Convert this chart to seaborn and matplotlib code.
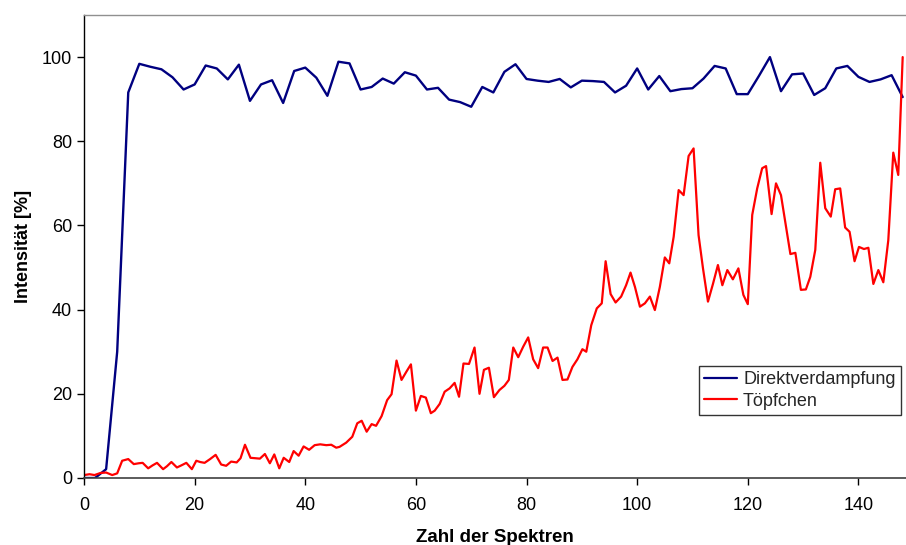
import numpy as np
import pandas as pd
import matplotlib
matplotlib.use("Agg")
import matplotlib.pyplot as plt
import seaborn as sns

# ---- data ----
blue_label = "Direktverdampfung"
red_label = "Töpfchen"

blue_x = list(range(0, 149, 2))
blue_y = [0.0, 0.0, 2.1, 30.0, 91.6, 98.4, 97.7, 97.1, 95.2, 92.3,
          93.5, 98.0, 97.3, 94.7, 98.2, 89.6, 93.5, 94.5, 89.1, 96.7,
          97.5, 95.1, 90.8, 98.9, 98.5, 92.3, 92.9, 94.9, 93.7, 96.4,
          95.6, 92.3, 92.7, 89.9, 89.3, 88.2, 92.9, 91.6, 96.5, 98.3,
          94.8, 94.4, 94.1, 94.8, 92.8, 94.4, 94.3, 94.1, 91.6, 93.2,
          97.3, 92.3, 95.5, 91.9, 92.4, 92.6, 94.9, 97.9, 97.3, 91.2,
          91.2, 95.5, 100.0, 91.9, 95.9, 96.1, 91.0, 92.6, 97.3, 97.9,
          95.3, 94.1, 94.7, 95.7, 90.5]

red_x = [0.0, 1.0, 1.9, 3.0, 4.0, 5.1, 6.0, 6.9, 8.0, 9.0,
         9.9, 10.6, 11.6, 12.4, 13.2, 14.3, 15.0, 15.8, 16.8, 17.6,
         18.5, 19.5, 20.3, 21.0, 21.8, 22.8, 23.8, 24.8, 25.7, 26.6,
         27.6, 28.3, 29.1, 30.1, 31.0, 31.8, 32.7, 33.6, 34.4, 35.3,
         36.1, 37.1, 37.9, 38.8, 39.7, 40.7, 41.7, 42.7, 43.8, 44.7,
         45.6,
         46.2, 47.4, 48.5, 49.4, 50.2, 51.1, 52.0, 52.8, 53.8, 54.8,
         55.6, 56.5, 57.4, 58.3, 59.1, 60.0, 60.9, 61.8, 62.7, 63.4,
         64.3, 65.2, 66.1, 67.0, 67.8, 68.6, 69.6, 70.6, 71.5, 72.3,
         73.2, 74.1, 75.1, 76.0, 76.8, 77.6, 78.5, 79.4, 80.3, 81.2,
         82.1, 83.0, 83.8, 84.7, 85.6, 86.5, 87.4, 88.3, 89.2, 90.1,
         90.8, 91.7, 92.7, 93.6, 94.3,
         95.2, 96.1, 97.1, 98.0, 98.8, 99.6, 100.5, 101.4, 102.3, 103.2,
         104.1, 105.0, 105.8, 106.6, 107.5, 108.4, 109.3, 110.2, 111.1, 111.9,
         112.8, 113.7, 114.6, 115.4, 116.3, 117.3, 118.3, 119.2, 120.0, 120.8,
         121.7, 122.6, 123.3, 124.3, 125.1, 126.0, 126.9, 127.7, 128.6, 129.6,
         130.5, 131.3, 132.2, 133.1, 134.0, 135.0, 135.8, 136.7, 137.6, 138.4,
         139.3, 140.1, 141.0, 141.8, 142.7, 143.6, 144.5, 145.4, 146.3, 147.2,
         148.0]
red_y = [0.7, 0.9, 0.7, 1.2, 1.3, 0.7, 1.1, 4.1, 4.5, 3.3,
         3.5, 3.6, 2.3, 3.0, 3.6, 2.1, 2.8, 3.8, 2.5, 3.0,
         3.6, 2.1, 4.1, 3.8, 3.6, 4.5, 5.5, 3.2, 2.9, 3.9,
         3.7, 4.7, 7.9, 4.8, 4.7, 4.6, 5.7, 3.5, 5.6, 2.3,
         4.8, 3.8, 6.4, 5.3, 7.5, 6.7, 7.8, 8.0, 7.8, 7.9,
         7.2,
         7.4, 8.4, 9.8, 13.0, 13.6, 11.0, 12.8, 12.4, 14.7, 18.5,
         19.9, 27.9, 23.3, 25.3, 27.0, 16.0, 19.5, 19.1, 15.4, 16.0,
         17.6, 20.5, 21.3, 22.6, 19.3, 27.2, 27.1, 31.0, 20.0, 25.7,
         26.2, 19.2, 20.9, 21.9, 23.3, 31.0, 28.7, 31.2, 33.4, 28.2,
         26.1, 31.0, 31.0, 27.8, 28.6, 23.3, 23.4, 26.4, 28.2, 30.6,
         30.0, 36.3, 40.3, 41.5, 51.5,
         43.7, 41.7, 43.1, 45.8, 48.8, 45.4, 40.7, 41.5, 43.1, 39.9,
         45.4, 52.4, 51.0, 57.3, 68.4, 67.2, 76.5, 78.3, 57.7, 49.8,
         41.9, 46.1, 50.6, 45.8, 49.4, 47.2, 49.8, 43.5, 41.3, 62.5,
         68.8, 73.6, 74.1, 62.7, 70.0, 67.2, 59.7, 53.2, 53.5, 44.7,
         44.8, 47.8, 54.2, 74.9, 64.1, 62.1, 68.6, 68.8, 59.5, 58.5,
         51.5, 54.9, 54.4, 54.7, 46.1, 49.4, 46.5, 56.5, 77.3, 72.0,
         100.0]

x_ticks = [0, 20, 40, 60, 80, 100, 120, 140]
y_ticks = [0, 20, 40, 60, 80, 100]
x_label = "Zahl der Spektren"
y_label = "Intensität [%]"

# ---- style ----
sns.set_theme(style="white")
plt.rcParams["font.family"] = ["Liberation Sans", "DejaVu Sans"]

fig = plt.figure(figsize=(9.06, 5.45), dpi=100)
ax = fig.add_axes([84 / 906, 1 - 478 / 545, 1 - 84 / 906, (478 - 15) / 545])

df_blue = pd.DataFrame({"x": blue_x, "y": blue_y})
df_red = pd.DataFrame({"x": red_x, "y": red_y})

sns.lineplot(data=df_blue, x="x", y="y", ax=ax, color="#000080",
             linewidth=1.7, label=blue_label, estimator=None, sort=False)
sns.lineplot(data=df_red, x="x", y="y", ax=ax, color="#FF0000",
             linewidth=1.6, label=red_label, estimator=None, sort=False)

ax.set_xlim(0, 148.6)
ax.set_ylim(0, 110)
ax.set_xticks(x_ticks)
ax.set_yticks(y_ticks)
ax.tick_params(axis="both", which="major", direction="out", length=5,
               width=1, color="black", labelsize=13, labelcolor="black",
               left=True, bottom=True)
ax.tick_params(axis="x", pad=9)
ax.tick_params(axis="y", pad=3.5)

ax.spines["left"].set_color("black")
ax.spines["left"].set_linewidth(1.0)
ax.spines["bottom"].set_color("#404040")
ax.spines["bottom"].set_linewidth(1.2)
ax.spines["top"].set_color("#909090")
ax.spines["top"].set_linewidth(1.0)
ax.spines["right"].set_visible(False)

ax.set_xlabel(x_label, fontsize=13.5, fontweight="bold", color="black")
ax.set_ylabel(y_label, fontsize=13, fontweight="bold", color="black")
ax.xaxis.set_label_coords(0.5, -0.11)
ax.yaxis.set_label_coords(-0.063, 0.5)

leg = ax.legend(loc="lower left", bbox_to_anchor=(0.748, 0.136),
                borderaxespad=0, frameon=True, fancybox=False, shadow=False,
                fontsize=13, handlelength=1.8, handletextpad=0.35,
                labelspacing=0.25, borderpad=0.3)
leg.get_frame().set_edgecolor("black")
leg.get_frame().set_linewidth(1.0)
for line in leg.get_lines():
    line.set_linewidth(1.6)

fig.savefig("out.png", dpi=100, facecolor="white")
